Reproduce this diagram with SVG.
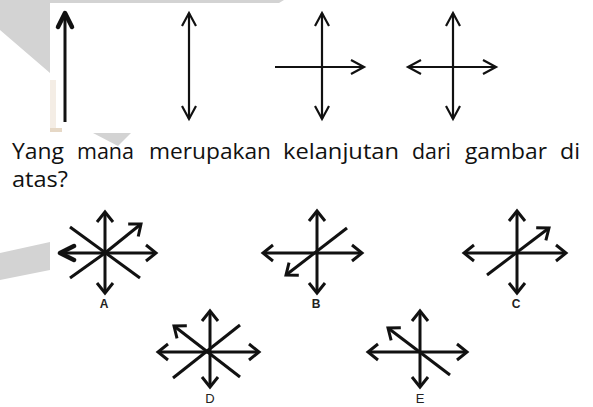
<svg xmlns="http://www.w3.org/2000/svg" width="593" height="407" viewBox="0 0 593 407">
<style>
.w{fill:#d3d3d3;stroke:none}
.ln{stroke:#111;stroke-width:3;fill:none;stroke-linecap:butt}
.thin{stroke:#111;stroke-width:2.2;fill:none}
.q{font-family:"Open Sans","Noto Sans",sans-serif;font-size:22px;fill:#111}
.lab{font-family:"Liberation Sans",Arial,sans-serif;font-size:12px;font-weight:bold;fill:#222;text-anchor:middle}
.lab2{font-family:"Liberation Sans",Arial,sans-serif;font-size:13px;fill:#222;text-anchor:middle}
</style>
<defs>
<marker id="ch" markerUnits="userSpaceOnUse" viewBox="-12 -9 14 18" refX="0" refY="0" markerWidth="14" markerHeight="18" orient="auto-start-reverse" overflow="visible">
<path d="M-10,-8 L0,0 L-10,8" fill="none" stroke="#111" stroke-width="3" stroke-linejoin="miter"/>
</marker>
<marker id="cht" markerUnits="userSpaceOnUse" viewBox="-12 -9 14 18" refX="0" refY="0" markerWidth="14" markerHeight="18" orient="auto-start-reverse" overflow="visible">
<path d="M-13,-7 L0,0 L-13,7" fill="none" stroke="#111" stroke-width="2.2" stroke-linejoin="miter"/>
</marker>
<marker id="fat" markerUnits="userSpaceOnUse" viewBox="-16 -10 18 20" refX="0" refY="0" markerWidth="18" markerHeight="20" orient="auto" overflow="visible">
<path d="M-14,-7 L0,0 L-14,7" fill="none" stroke="#111" stroke-width="4.5" stroke-linejoin="round" stroke-linecap="round"/>
</marker>
</defs>
<rect width="593" height="407" fill="#fff"/>
<!-- watermark shapes -->
<polygon class="w" points="0,0 284,0 279,3 50,3 50,73 0,30"/>
<polygon class="w" points="93,133 131,133 118,146"/>
<polygon class="w" points="0,253 50,242 50,270 0,280"/>
<rect x="50" y="128" width="12" height="4" fill="#e6d8c6"/>
<rect x="50" y="80" width="6" height="48" fill="#efe6da" opacity="0.7"/>

<g id="fig1">
<line class="ln" x1="65" y1="122" x2="65" y2="13" stroke-width="4.5" marker-end="url(#fat)"/>
</g>
<g id="fig2">
<line class="thin" x1="189" y1="13" x2="189" y2="119" marker-start="url(#cht)" marker-end="url(#cht)"/>
</g>
<g id="fig3">
<line class="thin" x1="322" y1="67" x2="322" y2="13" marker-end="url(#cht)"/>
<line class="thin" x1="322" y1="67" x2="322" y2="119" marker-end="url(#cht)"/>
<line class="thin" x1="275" y1="67" x2="364" y2="67" marker-end="url(#cht)"/>
</g>
<g id="fig4">
<line class="thin" x1="453" y1="13" x2="453" y2="119" marker-start="url(#cht)" marker-end="url(#cht)"/>
<line class="thin" x1="408" y1="67" x2="496" y2="67" marker-start="url(#cht)" marker-end="url(#cht)"/>
</g>

<g id="question">
<text class="q" x="12" y="159" textLength="52" lengthAdjust="spacingAndGlyphs">Yang</text>
<text class="q" x="77" y="159" textLength="57" lengthAdjust="spacingAndGlyphs">mana</text>
<text class="q" x="149" y="159" textLength="122" lengthAdjust="spacingAndGlyphs">merupakan</text>
<text class="q" x="283" y="159" textLength="116" lengthAdjust="spacingAndGlyphs">kelanjutan</text>
<text class="q" x="412" y="159" textLength="39" lengthAdjust="spacingAndGlyphs">dari</text>
<text class="q" x="465" y="159" textLength="82" lengthAdjust="spacingAndGlyphs">gambar</text>
<text class="q" x="560" y="159" textLength="20" lengthAdjust="spacingAndGlyphs">di</text>
<text class="q" x="12" y="187" textLength="56" lengthAdjust="spacingAndGlyphs">atas?</text>
</g>

<g id="optA">
<line class="ln" x1="105" y1="253" x2="105" y2="212" marker-end="url(#ch)"/>
<line class="ln" x1="105" y1="253" x2="105" y2="293" marker-end="url(#ch)"/>
<line class="ln" x1="105" y1="253" x2="156" y2="253" marker-end="url(#ch)"/>
<line class="ln" x1="105" y1="253" x2="60" y2="253" stroke-width="3.5" marker-end="url(#fat)"/>
<line class="ln" x1="105" y1="253" x2="141" y2="224" marker-end="url(#ch)"/>
<line class="ln" x1="70" y1="227" x2="140" y2="278"/>
<line class="ln" x1="70" y1="278" x2="105" y2="253"/>
<text class="lab" x="104" y="308">A</text>
</g>
<g id="optB">
<line class="ln" x1="317" y1="253" x2="317" y2="211" marker-end="url(#ch)"/>
<line class="ln" x1="317" y1="253" x2="317" y2="293" marker-end="url(#ch)"/>
<line class="ln" x1="263" y1="253" x2="362" y2="253" marker-start="url(#ch)" marker-end="url(#ch)"/>
<line class="ln" x1="347" y1="228" x2="286" y2="275" marker-end="url(#ch)"/>
<text class="lab" x="316" y="308">B</text>
</g>
<g id="optC">
<line class="ln" x1="517" y1="253" x2="517" y2="211" marker-end="url(#ch)"/>
<line class="ln" x1="517" y1="253" x2="517" y2="293" marker-end="url(#ch)"/>
<line class="ln" x1="464" y1="253" x2="566" y2="253" marker-start="url(#ch)" marker-end="url(#ch)"/>
<line class="ln" x1="487" y1="275" x2="549" y2="228" marker-end="url(#ch)"/>
<text class="lab" x="516" y="308">C</text>
</g>
<g id="optD">
<line class="ln" x1="210" y1="311" x2="210" y2="387" marker-start="url(#ch)" marker-end="url(#ch)"/>
<line class="ln" x1="158" y1="352" x2="259" y2="352" marker-start="url(#ch)" marker-end="url(#ch)"/>
<line class="ln" x1="240" y1="377" x2="174" y2="326" marker-end="url(#ch)"/>
<line class="ln" x1="173" y1="378" x2="240" y2="325"/>
<text class="lab2" x="210" y="403">D</text>
</g>
<g id="optE">
<line class="ln" x1="420" y1="311" x2="420" y2="387" marker-start="url(#ch)" marker-end="url(#ch)"/>
<line class="ln" x1="368" y1="352" x2="467" y2="352" marker-start="url(#ch)" marker-end="url(#ch)"/>
<line class="ln" x1="450" y1="375" x2="388" y2="328" marker-end="url(#ch)"/>
<text class="lab2" x="420" y="403">E</text>
</g>
</svg>
